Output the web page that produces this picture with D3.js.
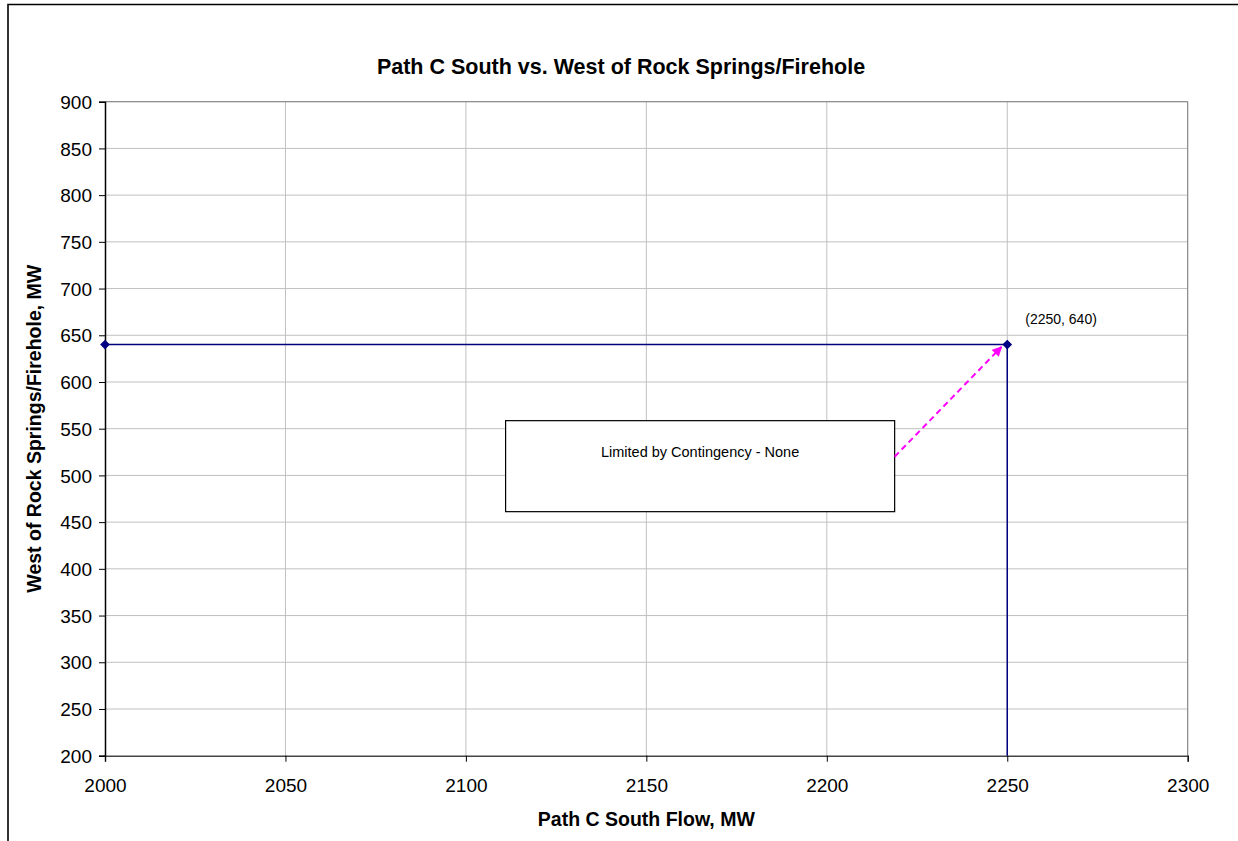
<!DOCTYPE html>
<html>
<head>
<meta charset="utf-8">
<script src="https://cdn.jsdelivr.net/npm/d3@7"></script>
<style>
  body { margin: 0; background: #fff; }
  svg { display: block; font-family: Arial, "Liberation Sans", sans-serif; }
</style>
</head>
<body>
<script>
// limit curve: flat at 640 MW, then straight down at 2250 MW
const limitX = [2000, 2250, 2250];
const limitY = [640, 640, 200];
const markerIdx = [0, 1];
const pointLabel = "(2250, 640)";

const xTicks = [2000, 2050, 2100, 2150, 2200, 2250, 2300];
const yTicks = [200, 250, 300, 350, 400, 450, 500, 550, 600, 650, 700, 750, 800, 850, 900];

// note box and arrow, in data units
const noteText = "Limited by Contingency - None";
const noteBox = [2111, 558.6, 2218.8, 461.2];
const noteArrow = [2218.8, 520, 2248.4, 637.6];

const width = 1238, height = 841;
const margin = { top: 101.7, right: 50.3, bottom: 85.3, left: 105 };

const svg = d3.select('body').append('svg')
  .attr('width', width)
  .attr('height', height);

// outer chart frame (only top and left visible)
svg.append('path')
  .attr('d', `M8,${height} L8,4.5 L${width},4.5`)
  .attr('fill', 'none')
  .attr('stroke', '#000')
  .attr('stroke-width', 1.6);

const x = d3.scaleLinear().domain([2000, 2300]).range([margin.left, width - margin.right]);
const y = d3.scaleLinear().domain([200, 900]).range([height - margin.bottom, margin.top]);

// gridlines
svg.append('g').selectAll('line').data(xTicks.slice(1))
  .join('line')
  .attr('x1', d => x(d)).attr('x2', d => x(d))
  .attr('y1', y(900)).attr('y2', y(200))
  .attr('stroke', '#c0c0c0').attr('stroke-width', 1);
svg.append('g').selectAll('line').data(yTicks.slice(1))
  .join('line')
  .attr('x1', x(2000)).attr('x2', x(2300))
  .attr('y1', d => y(d)).attr('y2', d => y(d))
  .attr('stroke', '#c0c0c0').attr('stroke-width', 1);

// plot border right/top
svg.append('path')
  .attr('d', `M${x(2000)},${y(900)} L${x(2300)},${y(900)} L${x(2300)},${y(200)}`)
  .attr('fill', 'none')
  .attr('stroke', '#808080')
  .attr('stroke-width', 1);

// axes
const xAxis = svg.append('g')
  .attr('transform', `translate(0,${y(200)})`)
  .call(d3.axisBottom(x).tickValues(xTicks).tickSize(6).tickPadding(17).tickFormat(d3.format('d')));
const yAxis = svg.append('g')
  .attr('transform', `translate(${x(2000)},0)`)
  .call(d3.axisLeft(y).tickValues(yTicks).tickSize(6).tickPadding(7).tickFormat(d3.format('d')));
[xAxis, yAxis].forEach(g => {
  g.select('.domain').attr('stroke', '#000').attr('stroke-width', 1.5);
  g.selectAll('.tick line').attr('stroke', '#000');
  g.selectAll('.tick text').attr('fill', '#000')
    .style('font-size', '19px').style('font-family', 'Arial, "Liberation Sans", sans-serif');
});
xAxis.select('.domain').attr('stroke', '#444');
yAxis.selectAll('.tick text').attr('dy', '0.35em');

// limit line
const pts = limitX.map((v, i) => [v, limitY[i]]);
svg.append('path')
  .datum(pts)
  .attr('d', d3.line().x(d => x(d[0])).y(d => y(d[1])))
  .attr('fill', 'none')
  .attr('stroke', '#000080')
  .attr('stroke-width', 1.5);

svg.append('g').selectAll('path').data(markerIdx.map(i => pts[i]))
  .join('path')
  .attr('transform', d => `translate(${x(d[0])},${y(d[1])})`)
  .attr('d', d3.symbol(d3.symbolDiamond2, 60))
  .attr('fill', '#000080');

svg.append('text')
  .attr('x', x(2250) + 18)
  .attr('y', y(640) - 21)
  .attr('font-size', 14)
  .attr('fill', '#000')
  .text(pointLabel);

// note box
svg.append('rect')
  .attr('x', x(noteBox[0]))
  .attr('y', y(noteBox[1]))
  .attr('width', x(noteBox[2]) - x(noteBox[0]))
  .attr('height', y(noteBox[3]) - y(noteBox[1]))
  .attr('fill', '#fff')
  .attr('stroke', '#000')
  .attr('stroke-width', 1.2);
svg.append('text')
  .attr('x', (x(noteBox[0]) + x(noteBox[2])) / 2)
  .attr('y', y(noteBox[1]) + 36)
  .attr('text-anchor', 'middle')
  .attr('font-size', 14.5)
  .attr('fill', '#000')
  .text(noteText);

// dashed arrow
svg.append('defs').append('marker')
  .attr('id', 'arrow')
  .attr('viewBox', '0 0 10 10')
  .attr('refX', 9).attr('refY', 5)
  .attr('markerWidth', 5).attr('markerHeight', 5)
  .attr('orient', 'auto')
  .append('path')
  .attr('d', 'M0,0 L10,5 L0,10 Z')
  .attr('fill', '#ff00ff');
svg.append('line')
  .attr('x1', x(noteArrow[0])).attr('y1', y(noteArrow[1]))
  .attr('x2', x(noteArrow[2])).attr('y2', y(noteArrow[3]))
  .attr('stroke', '#ff00ff')
  .attr('stroke-width', 2)
  .attr('stroke-dasharray', '6,4')
  .attr('marker-end', 'url(#arrow)');

// titles
svg.append('text')
  .attr('x', 621).attr('y', 74)
  .attr('text-anchor', 'middle')
  .attr('font-size', 21.5).attr('font-weight', 'bold')
  .text('Path C South vs. West of Rock Springs/Firehole');
svg.append('text')
  .attr('x', (x(2000) + x(2300)) / 2).attr('y', 826)
  .attr('text-anchor', 'middle')
  .attr('font-size', 19.5).attr('font-weight', 'bold')
  .text('Path C South Flow, MW');
svg.append('text')
  .attr('transform', `translate(41,${(y(200) + y(900)) / 2}) rotate(-90)`)
  .attr('text-anchor', 'middle')
  .attr('font-size', 19.5).attr('font-weight', 'bold')
  .text('West of Rock Springs/Firehole, MW');
</script>
</body>
</html>
